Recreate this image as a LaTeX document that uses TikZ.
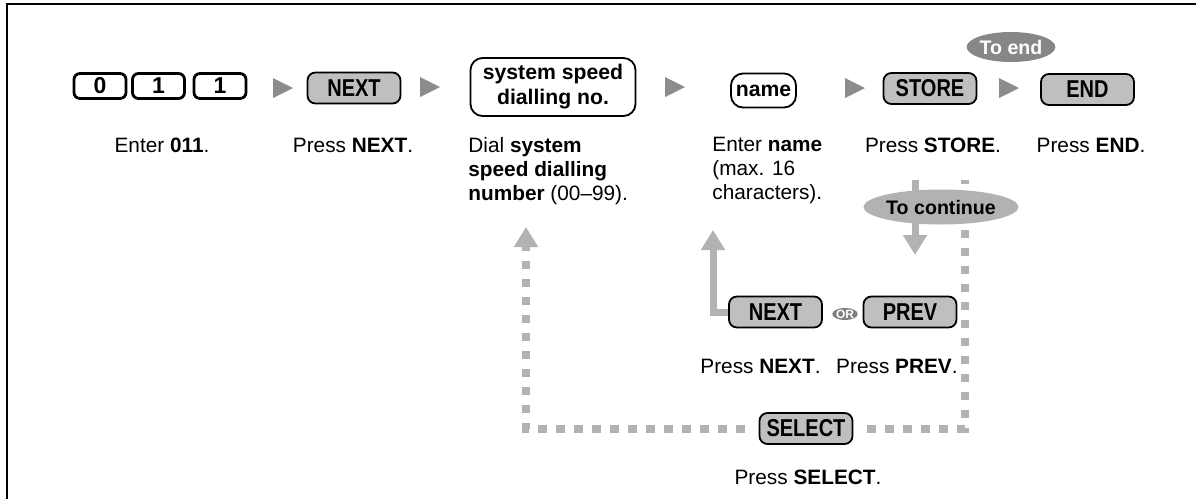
\documentclass[tikz,border=0pt]{standalone}
\usepackage{fontspec}
\setmainfont{Liberation Sans}
\newfontfamily\keyfont[FakeStretch=0.82]{Liberation Sans}
\usetikzlibrary{positioning,arrows.meta,shapes.geometric}

\newcommand{\stepmark}[1]{\fill[black!45] (#1) ++(-10,-10) -- ++(20,10) -- ++(-20,10) -- cycle;}

\begin{document}
\begin{tikzpicture}[
    x=0.5pt, y=-0.5pt,
    digit/.style={draw, line width=1.4pt, rounded corners=3pt, fill=white, inner sep=0pt,
        minimum width=26pt, minimum height=12.5pt, font=\bfseries\fontsize{11.5}{11.5}\selectfont},
    graykey/.style={draw, line width=0.9pt, rounded corners=4pt, fill=black!25, inner sep=0pt,
        minimum width=46.5pt, minimum height=15.5pt, font=\keyfont\bfseries\fontsize{12.2}{12}\selectfont},
    entry/.style={draw, line width=0.9pt, rounded corners=6pt, fill=white, inner sep=0pt, align=center,
        font=\bfseries\fontsize{10.6}{12.5}\selectfont},
    tag/.style={ellipse, inner sep=0pt, font=\bfseries\fontsize{9.8}{10}\selectfont},
    txt/.style={inner sep=0pt, font=\fontsize{10.4}{12}\selectfont},
    solidflow/.style={draw=black!30, line width=3.5pt, -{Triangle[length=10pt, width=11.5pt]}},
    dashflow/.style={draw=black!30, line width=4pt, dash pattern=on 4.2pt off 4.8pt, shorten <=7pt}
]
\useasboundingbox (0,0) rectangle (1196,499);
\draw[line width=1.2pt] (7,499) -- (7,4) -- (1196,4);

% top row
\node[digit] (k0) at (100,86) {0};
\node[digit] (k1) at (158.5,86) {1};
\node[digit] (k2) at (220,86) {1};
\node[graykey] (next) at (354,88) {NEXT};
\node[entry, minimum width=82.5pt, minimum height=29pt] (dial) at (553,87) {system speed\\dialling no.};
\node[entry, minimum width=32.5pt, minimum height=17pt] (name) at (763.5,90.5) {name};
\node[graykey] (store) at (930,88.5) {STORE};
\node[graykey] (end) at (1087.5,89.5) {END};
\node[tag, fill=black!47, text=white, minimum width=41pt, minimum height=15pt] (toend) at (1011,47) {To end};

\stepmark{283,88}
\stepmark{430,87}
\stepmark{675,87}
\stepmark{855,88}
\stepmark{1009,88}

% captions
\node[txt, anchor=base] (l011) at (162,152) {Enter \textbf{011}.};
\node[txt, anchor=base] (lnext) at (353,152) {Press \textbf{NEXT}.};
\node[txt, anchor=north west, align=left] (ldial) at (468,137) {Dial \textbf{system}\\\textbf{speed dialling}\\\textbf{number} (00--99).};
\node[txt, anchor=north west, align=left] (lname) at (712,137) {Enter \textbf{name}\\(max. 16\\characters).};
\node[txt, anchor=base] (lstore) at (933,152) {Press \textbf{STORE}.};
\node[txt, anchor=base] (lend) at (1091,152) {Press \textbf{END}.};

% lower part
\coordinate (storeout) at (915,180);
\coordinate (storein) at (965,180);
\coordinate (contdown) at (915,255);
\coordinate (nameup) at (713,230);
\coordinate (dialup) at (526,227);

\node[graykey] (next2) at (775.5,312) {NEXT};
\node[graykey] (prev) at (910,312) {PREV};
\node[graykey] (select) at (806,428.5) {SELECT};

\draw[solidflow] (storeout) -- (contdown);
\draw[dashflow] (select.east) -| (storein);
\draw[dashflow, -{Triangle[length=10pt, width=11.5pt]}] (select.west) -| (dialup);
\draw[solidflow] (next2.west) -| (nameup);

\node[tag, fill=black!30, minimum width=75.5pt, minimum height=17.5pt] (tocont) at (941,207) {To continue};
\node[tag, fill=black!50, text=white, minimum width=12.5pt, minimum height=6pt,
    font=\bfseries\fontsize{6}{6}\selectfont] (or) at (845,314) {OR};

\node[txt, anchor=base west] (lnext2) at (700,373) {Press \textbf{NEXT}.};
\node[txt, anchor=base east] (lprev) at (958,373) {Press \textbf{PREV}.};
\node[txt, anchor=base] (lselect) at (808,484) {Press \textbf{SELECT}.};
\end{tikzpicture}
\end{document}
